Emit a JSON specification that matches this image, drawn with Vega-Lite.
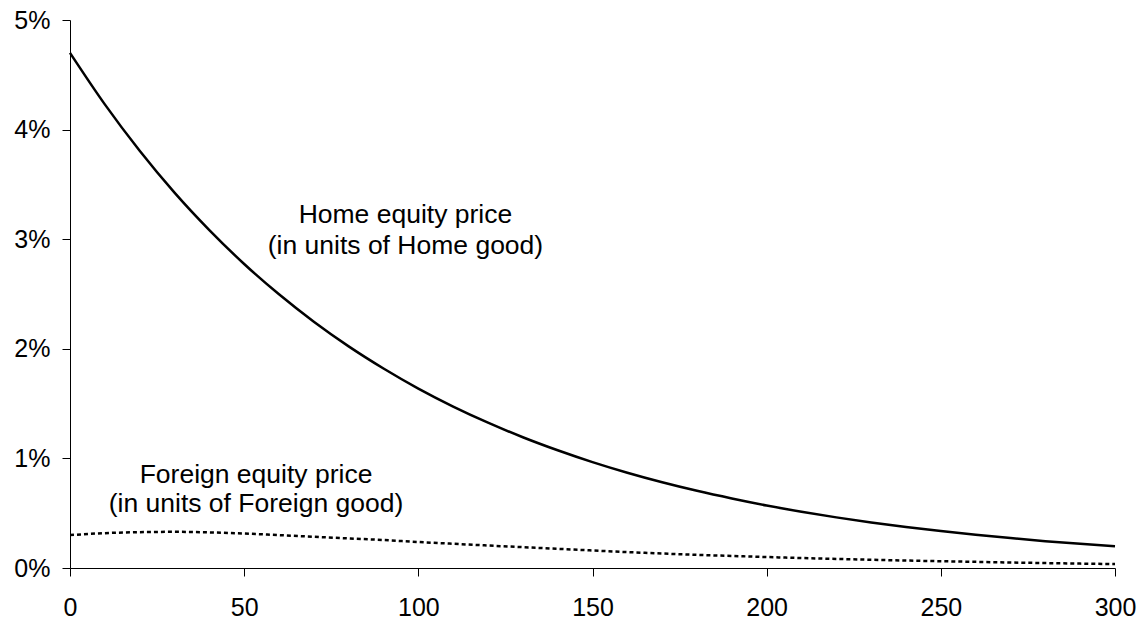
{
  "$schema": "https://vega.github.io/schema/vega-lite/v6.json",
  "width": 1045,
  "height": 548,
  "autosize": "none",
  "padding": {"left": 70, "top": 20, "right": 28, "bottom": 52},
  "background": "white",
  "config": {
    "view": {"stroke": null},
    "font": "Liberation Sans",
    "axis": {"grid": false, "domainColor": "#000", "tickColor": "#000", "labelColor": "#000", "labelFont": "Liberation Sans", "labelFontSize": 25, "tickSize": 8, "domainWidth": 1, "tickWidth": 1, "title": null}
  },
  "datasets": {
    "series": [
      {"t": 0, "home": 0.0470, "foreign": 0.00300},
      {"t": 10, "home": 0.0423, "foreign": 0.00318},
      {"t": 20, "home": 0.03807, "foreign": 0.00327},
      {"t": 30, "home": 0.03425, "foreign": 0.00330},
      {"t": 40, "home": 0.03083, "foreign": 0.00325},
      {"t": 50, "home": 0.02774, "foreign": 0.00315},
      {"t": 60, "home": 0.02497, "foreign": 0.00300},
      {"t": 70, "home": 0.02247, "foreign": 0.00285},
      {"t": 80, "home": 0.02022, "foreign": 0.00270},
      {"t": 90, "home": 0.01820, "foreign": 0.00255},
      {"t": 100, "home": 0.01637, "foreign": 0.00237},
      {"t": 110, "home": 0.01473, "foreign": 0.00221},
      {"t": 120, "home": 0.01326, "foreign": 0.00205},
      {"t": 130, "home": 0.01193, "foreign": 0.00190},
      {"t": 140, "home": 0.01074, "foreign": 0.00175},
      {"t": 150, "home": 0.00966, "foreign": 0.00160},
      {"t": 160, "home": 0.00869, "foreign": 0.00145},
      {"t": 170, "home": 0.00782, "foreign": 0.00132},
      {"t": 180, "home": 0.00704, "foreign": 0.00120},
      {"t": 190, "home": 0.00634, "foreign": 0.00110},
      {"t": 200, "home": 0.00570, "foreign": 0.00100},
      {"t": 210, "home": 0.00513, "foreign": 0.00091},
      {"t": 220, "home": 0.00462, "foreign": 0.00083},
      {"t": 230, "home": 0.00416, "foreign": 0.00075},
      {"t": 240, "home": 0.00374, "foreign": 0.00068},
      {"t": 250, "home": 0.00337, "foreign": 0.00062},
      {"t": 260, "home": 0.00303, "foreign": 0.00056},
      {"t": 270, "home": 0.00273, "foreign": 0.00050},
      {"t": 280, "home": 0.00245, "foreign": 0.00045},
      {"t": 290, "home": 0.00221, "foreign": 0.00040},
      {"t": 300, "home": 0.00199, "foreign": 0.00036}
    ],
    "labels": [
      {"x": 96.3, "y": 0.03148, "text": "Home equity price"},
      {"x": 96.3, "y": 0.02865, "text": "(in units of Home good)"},
      {"x": 53.4, "y": 0.00776, "text": "Foreign equity price"},
      {"x": 53.4, "y": 0.00511, "text": "(in units of Foreign good)"}
    ]
  },
  "layer": [
    {
      "data": {"name": "series"},
      "mark": {"type": "line", "color": "#000", "strokeWidth": 2.5, "interpolate": "monotone"},
      "encoding": {
        "x": {"field": "t", "type": "quantitative", "scale": {"domain": [0, 300], "nice": false}, "axis": {"values": [0, 50, 100, 150, 200, 250, 300], "labelPadding": 19, "labelFlush": false}},
        "y": {"field": "home", "type": "quantitative", "scale": {"domain": [0, 0.05], "nice": false}, "axis": {"values": [0, 0.01, 0.02, 0.03, 0.04, 0.05], "format": ".0%", "labelPadding": 12}}
      }
    },
    {
      "data": {"name": "series"},
      "mark": {"type": "line", "color": "#000", "strokeWidth": 2.5, "strokeDash": [4, 3], "interpolate": "monotone"},
      "encoding": {
        "x": {"field": "t", "type": "quantitative"},
        "y": {"field": "foreign", "type": "quantitative"}
      }
    },
    {
      "data": {"name": "labels"},
      "mark": {"type": "text", "align": "center", "baseline": "alphabetic", "fontSize": 26.5, "font": "Liberation Sans", "color": "#000"},
      "encoding": {
        "x": {"field": "x", "type": "quantitative"},
        "y": {"field": "y", "type": "quantitative"},
        "text": {"field": "text"}
      }
    }
  ]
}
